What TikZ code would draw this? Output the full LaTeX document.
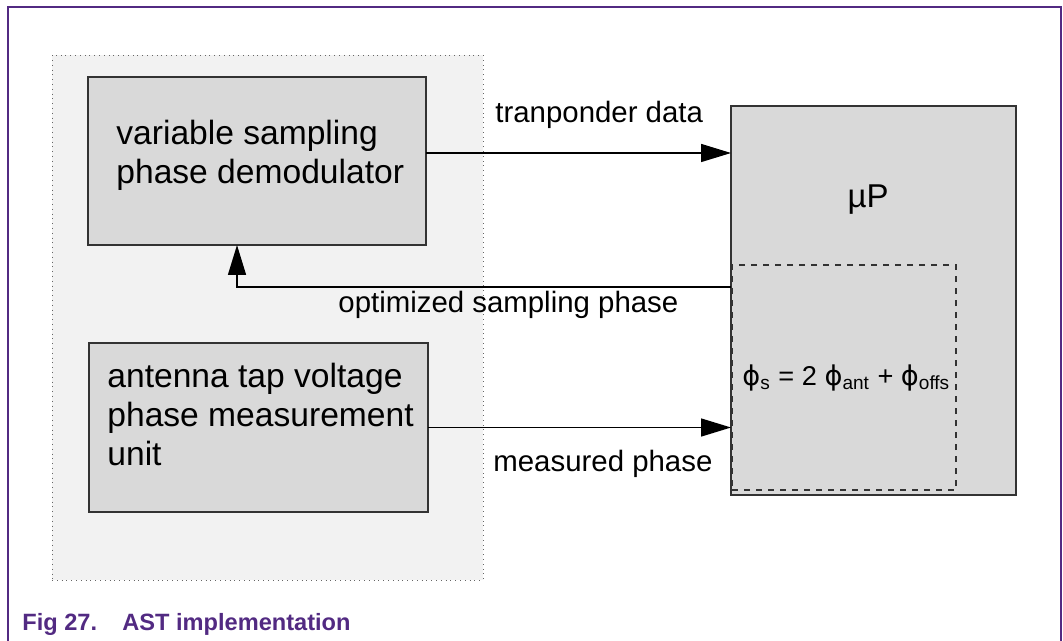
\documentclass[tikz,border=0pt]{standalone}
\usepackage{fontspec}
\setmainfont{Liberation Sans}
\newfontfamily\phifont{DejaVu Sans}
\usepackage{tikz}
\usetikzlibrary{arrows.meta}

\definecolor{nxppurple}{RGB}{82,42,130}
\definecolor{boxgray}{RGB}{217,217,217}
\definecolor{backgray}{RGB}{242,242,242}
\newcommand{\phisym}{{\phifont\char"03D5}}

\begin{document}
\begin{tikzpicture}[x=0.5pt, y=-0.5pt]
        \tikzstyle{block} = [draw=black!80, line width=0.9pt, fill=boxgray, inner sep=0pt, outer sep=0pt];
        \tikzstyle{blocktext} = [anchor=base west, inner sep=0pt, align=left, font=\fontsize{16.8}{19.5}\selectfont];
        \tikzstyle{label} = [anchor=base west, inner sep=0pt, font=\fontsize{14.7}{17}\selectfont];
        \tikzstyle{flow} = [line width=0.75pt, -{Triangle[length=15pt, width=9pt]}];

        \useasboundingbox (0,0) rectangle (1063,641);
        % page frame
        \draw[nxppurple, line width=1pt] (8,641) -- (8,7) -- (1061,7) -- (1061,641);

        % shaded area round the two left blocks
        \node[draw=black!60, dotted, fill=backgray, inner sep=0pt, minimum width=215.5pt, minimum height=262.5pt] (back) at (267.5,317.5) {};

        \node[block, minimum width=169pt, minimum height=84pt] (demod) at (257,161) {};
        % base anchor sits on the last line
        \node[blocktext] (demodtext) at (116,184) {variable sampling\\phase demodulator};

        \node[block, minimum width=169.5pt, minimum height=84.5pt] (meas) at (258.5,427.5) {};
        \node[blocktext] (meastext) at (107,465) {antenna tap voltage\\phase measurement\\unit};

        \node[block, minimum width=142.5pt, minimum height=194.5pt] (up) at (873.5,300.5) {};
        \node[anchor=base, inner sep=0pt, font=\fontsize{16.5}{19.5}\selectfont] (uptext) at (868,208) {µP};
        \node[draw=black!80, dashed, dash pattern=on 3pt off 3pt, line width=0.6pt, inner sep=0pt, minimum width=112pt, minimum height=112.5pt] (calc) at (844,377.5) {};
        \node[anchor=base west, inner sep=0pt, font=\fontsize{13.6}{16}\selectfont] (formula) at (742,385)
            {\phisym\textsubscript{s} = 2 \phisym\textsubscript{ant} + \phisym\textsubscript{offs}};

        % connections
        \coordinate (fb) at (0,287);
        \draw[flow] ([yshift=4pt]demod.east) -- ([yshift=4pt]demod.east -| up.west);
        \draw[flow] (meas.east) -- (meas.east -| up.west);
        \draw[flow] (up.west |- fb) -| ([xshift=-10pt]demod.south);

        \node[label] (datalabel) at (495,123) {tranponder data};
        \node[label] (phaselabel) at (338,313) {optimized sampling phase};
        \node[label] (measlabel) at (493,471) {measured phase};

        \node[anchor=base west, inner sep=0pt, text=nxppurple, font=\fontsize{11.8}{14}\selectfont\bfseries] (caption) at (22,630)
            {\makebox[50pt][l]{Fig 27.}AST implementation};
    \end{tikzpicture}
\end{document}
